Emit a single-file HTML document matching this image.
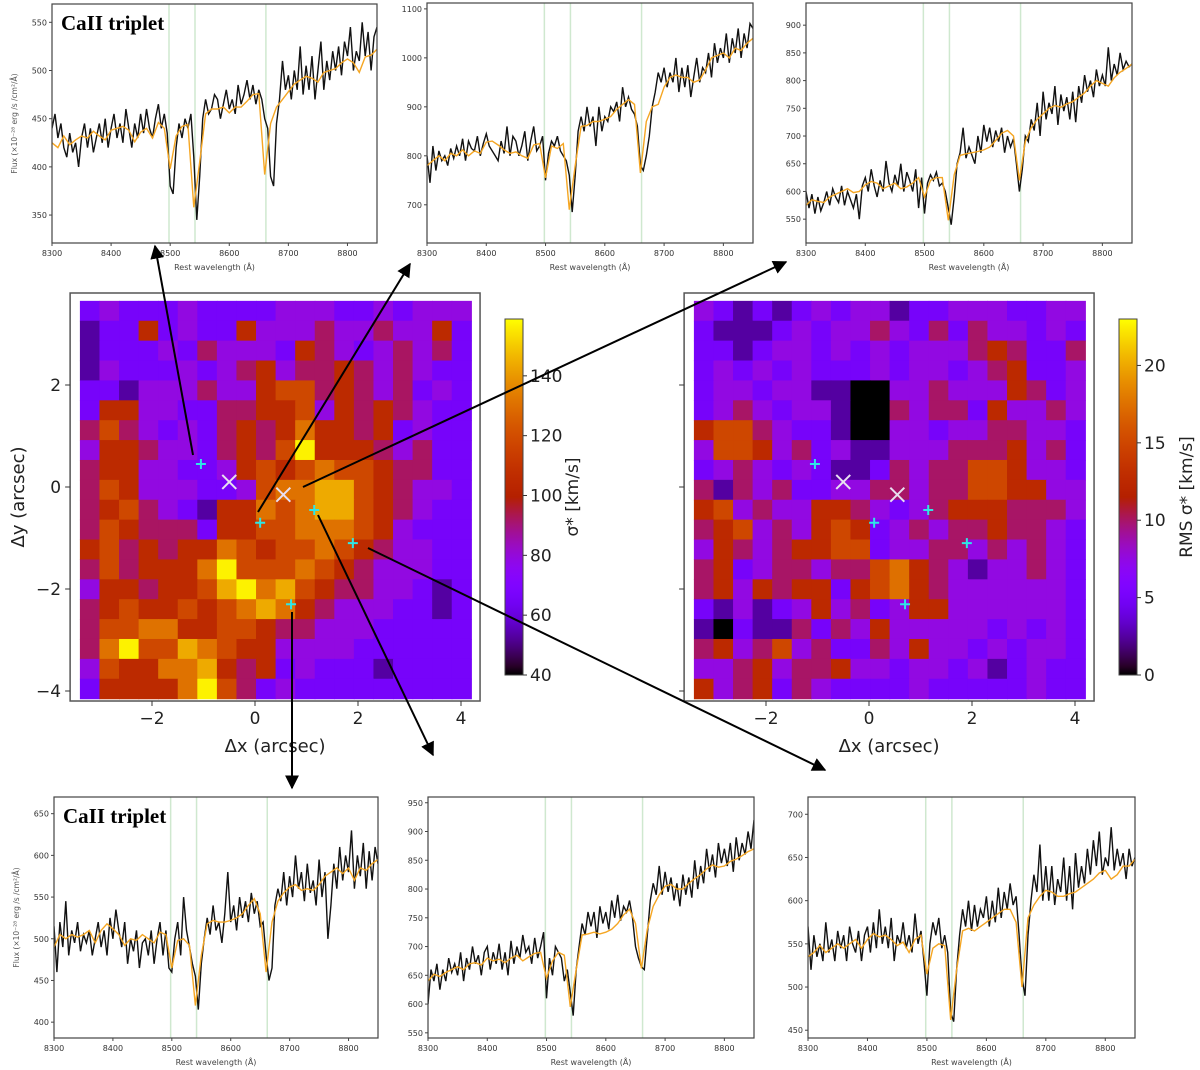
<!DOCTYPE html>
<html><head><meta charset="utf-8">
<style>
html,body{margin:0;padding:0;background:#fff;}
svg{display:block;font-family:"DejaVu Sans","Liberation Sans",sans-serif;}
</style></head>
<body>
<svg id="fig" width="1200" height="1070" viewBox="0 0 1200 1070" xmlns="http://www.w3.org/2000/svg">
<defs>
<marker id="ah" viewBox="0 0 10 10" refX="9" refY="5" markerWidth="7" markerHeight="7" orient="auto-start-reverse"><path d="M0,0 L10,5 L0,10 z" fill="#000"/></marker>
<linearGradient id="cmap" x1="0" y1="1" x2="0" y2="0"></linearGradient>
</defs>
</svg>
<script>
// ---- spectra data (wavelength grid: model every 10 Å, observed every 5 Å, 8300-8850) ----
const caLines = [8498, 8542, 8662];
const spec1Model = [425,420,432,423,428,432,430,437,432,428,438,440,442,438,426,436,440,430,446,440,398,432,442,444,358,405,455,460,460,462,456,462,462,468,475,476,392,445,462,470,478,486,490,494,492,488,498,500,502,508,512,508,498,514,516,522];
const spec1Obs = [440,455,430,445,420,410,435,415,425,400,430,445,420,440,415,430,445,425,450,420,440,455,430,445,425,460,440,420,445,430,455,435,460,440,430,450,465,440,455,435,380,372,420,445,430,450,440,455,410,345,390,450,470,455,460,475,470,450,465,480,460,470,455,485,465,475,490,470,485,465,480,470,450,440,390,380,445,470,510,480,495,470,500,480,525,475,505,480,515,470,500,530,480,510,490,520,500,525,495,530,515,545,500,520,510,550,515,540,500,535,545];
const spec1Ticks = [350,400,450,500,550];
const spec2Model = [780,790,800,790,805,800,812,800,810,805,828,830,822,812,805,808,800,795,822,825,755,820,815,825,690,780,860,862,870,870,875,880,895,905,915,905,765,870,900,905,940,960,965,960,960,950,955,975,1000,1005,1010,1000,1020,1015,1030,1040];
const spec2Obs = [800,745,820,770,810,790,800,780,815,795,820,800,835,790,830,815,810,840,800,825,845,820,810,800,790,830,805,860,800,840,830,800,820,850,790,830,860,810,820,840,750,805,830,820,840,810,800,790,760,685,760,850,880,850,900,860,880,820,900,850,880,870,900,890,910,870,940,900,920,895,885,860,780,770,800,840,900,930,970,950,980,940,970,950,1000,930,980,940,985,920,960,1000,950,980,970,1010,960,1030,990,1020,1000,1050,990,1040,1010,1060,1000,1050,1020,1070,1060];
const spec2Ticks = [700,800,900,1000,1100];
const spec3Model = [575,585,582,580,590,595,600,605,598,600,612,618,615,605,610,615,605,608,615,625,590,620,625,625,548,630,665,668,670,672,675,680,692,705,710,700,620,690,715,730,740,750,755,752,758,762,770,778,790,800,795,790,805,815,822,830];
const spec3Obs = [600,570,595,560,590,565,580,600,575,605,590,580,610,575,600,585,570,595,550,610,625,600,640,610,590,620,600,655,615,600,630,610,650,600,635,620,600,640,570,625,560,615,630,620,635,610,615,600,570,540,590,650,670,715,660,680,665,650,700,670,720,690,715,680,710,690,715,670,700,680,695,650,600,640,700,690,730,710,760,700,780,730,760,740,790,720,775,745,770,730,780,725,790,760,810,780,800,770,820,790,810,790,860,800,830,810,850,820,835,825,830];
const spec3Ticks = [550,600,650,700,750,800,850,900];
const spec4Model = [490,505,500,505,502,505,510,495,510,518,512,505,492,500,498,505,500,495,508,505,465,498,500,492,420,480,518,522,520,520,522,525,530,540,548,530,460,520,545,555,562,565,558,560,558,565,575,580,585,578,585,570,585,582,590,595];
const spec4Obs = [515,460,520,490,545,480,510,495,520,485,505,495,510,480,500,520,490,510,480,525,500,535,510,490,520,470,500,485,510,465,495,500,480,510,470,500,520,480,510,465,460,500,520,480,550,510,490,470,455,415,470,500,525,505,540,510,520,495,530,580,520,540,510,550,525,545,520,555,530,545,515,520,480,450,465,540,560,545,580,540,575,550,600,560,580,545,590,555,570,540,595,550,580,500,540,590,560,610,570,600,580,630,560,600,575,615,560,605,570,610,590];
const spec4Ticks = [400,450,500,550,600,650];
const spec5Model = [640,652,648,655,660,665,660,670,672,668,680,675,678,672,680,685,675,682,688,690,645,675,690,685,595,660,720,722,725,722,725,730,740,755,765,740,662,730,770,790,805,808,800,800,810,818,825,835,842,838,840,848,852,858,865,870];
const spec5Obs = [600,660,640,670,625,660,640,680,655,670,650,690,640,680,660,700,670,685,650,690,700,660,690,670,705,660,690,650,710,670,700,680,720,690,700,670,715,680,700,725,610,680,650,700,690,680,640,660,620,580,660,700,740,720,760,735,760,715,770,740,760,730,780,750,790,745,770,760,780,750,700,680,665,660,720,780,810,790,840,790,830,795,820,780,810,770,825,790,820,785,850,800,840,810,870,830,860,820,880,845,870,840,880,830,890,850,880,860,900,870,920];
const spec5Ticks = [550,600,650,700,750,800,850,900,950];
const spec6Model = [535,540,548,540,545,550,545,550,555,545,555,562,558,560,555,548,552,540,555,560,515,545,550,548,462,520,565,568,565,570,575,580,585,590,590,575,500,580,595,605,612,610,605,605,608,610,615,620,625,632,635,625,630,640,640,648];
const spec6Obs = [570,520,560,535,550,530,575,540,555,530,565,545,560,530,570,550,540,565,530,560,570,540,575,545,590,550,570,545,580,530,560,550,575,545,560,540,585,550,565,530,490,550,575,560,580,545,560,540,470,460,520,560,590,570,600,565,595,570,590,580,605,570,600,575,615,580,610,590,620,595,605,560,510,490,560,600,630,610,665,600,640,600,640,595,625,610,650,600,640,590,655,615,640,620,660,630,670,640,680,630,650,640,685,635,660,640,655,625,660,640,650];
const spec6Ticks = [450,500,550,600,650,700];
const waveTicks = [8300,8400,8500,8600,8700,8800];

// ---- map data: 20x20 grids, rows top->bottom; digit d -> value ----
const sigmaRows = ["23222322223332232333","12252322533343343352","12223243332543234342","13222323453445434322","22133343356645434232","25533224455635454322","46432324545755452322","35543324546955543422","45533223565676654422","46533322367788654332","45643215576788654322","46544425566777653222","56454557656676543322","46455579666765433322","35545568978654433212","45655656787543332212","46677556654433322222","47966876553333222222","36557785452322212222","25555796423222222222"];
const rmsRows = ["32121232331223332233","21112323343242433232","22123323232333454224","23232322232332345223","23323311003343335423","23432331004344253343","56643221003323344332","36653423113334445342","23432321124344665332","41434223344344665533","56343355432345554443","45634356523434454432","35434556623344343432","45234434467543133432","45354552567543333332","21312353423553333332","10211424353333323232","45346342243533232332","33453445332332312322","53452432222322222322"];
const sigmaStep = 13, sigmaBase = 40;
const rmsStep = 2.5, rmsBase = 0;
const sigmaTicks = [40,60,80,100,120,140];
const rmsTicks = [0,5,10,15,20];
const mapXTicks = [-2,0,2,4];
const mapYTicks = [2,0,-2,-4];
const starX = [-1.05,0.1,1.15,1.9,0.7];
const starY = [0.45,-0.7,-0.45,-1.1,-2.3];
const crossX = [-0.5,0.55];
const crossY = [0.1,-0.15];

const NS="http://www.w3.org/2000/svg";
const svg=document.getElementById('fig');
function mk(tag,attrs,parent){const e=document.createElementNS(NS,tag);for(const k in attrs)e.setAttribute(k,attrs[k]);(parent||svg).appendChild(e);return e;}

function gnu(t){t=Math.max(0,Math.min(1,t));const r=Math.sqrt(t),g=t*t*t,b=Math.max(0,Math.sin(2*Math.PI*t));return `rgb(${Math.round(r*255)},${Math.round(g*255)},${Math.round(b*255)})`;}
const grad=document.getElementById('cmap');
for(let i=0;i<=40;i++){const s=document.createElementNS(NS,'stop');s.setAttribute('offset',(i/40));s.setAttribute('stop-color',gnu(i/40));grad.appendChild(s);}

// ---- spectra ----
function drawSpec(name,box,ymin,ymax,ticks,model,obs,withTitle){
  const g=mk('g',{});
  
  
  const xs=w=>box.l+(w-8300)/(8850-8300)*(box.r-box.l);
  const ys=v=>box.b-(v-ymin)/(ymax-ymin)*(box.b-box.t);
  const cp=mk('clipPath',{id:'c'+name},g);mk('rect',{x:box.l,y:box.t,width:box.r-box.l,height:box.b-box.t},cp);
  caLines.forEach(w=>{const l=mk('line',{x1:xs(w),x2:xs(w),y1:box.t,y2:box.b,stroke:'#cfe8cf','stroke-width':1.5},g);
    
    });
  let d='';obs.forEach((v,i)=>{d+=(i?'L':'M')+xs(8300+5*i).toFixed(1)+','+ys(v).toFixed(1);});
  const po=mk('path',{d:d,fill:'none',stroke:'#111','stroke-width':1.4,'clip-path':`url(#c${name})`},g);
  
  
  d='';model.forEach((v,i)=>{d+=(i?'L':'M')+xs(8300+10*i).toFixed(1)+','+ys(v).toFixed(1);});
  const pm=mk('path',{d:d,fill:'none',stroke:'#f5a623','stroke-width':1.4,'clip-path':`url(#c${name})`},g);
  
  
  const fr=mk('rect',{x:box.l,y:box.t,width:box.r-box.l,height:box.b-box.t,fill:'none',stroke:'#444','stroke-width':1.2},g);
  
  
  ticks.forEach(v=>{const y=ys(v);mk('line',{x1:box.l-3,x2:box.l,y1:y,y2:y,stroke:'#444'},g);
    const t=mk('text',{x:box.l-5,y:y+3,'font-size':8,'text-anchor':'end',fill:'#333'},g);t.textContent=v;
    
    });
  waveTicks.forEach(w=>{const x=xs(w);mk('line',{x1:x,x2:x,y1:box.b,y2:box.b+3,stroke:'#444'},g);
    const t=mk('text',{x:x,y:box.b+13,'font-size':8,'text-anchor':'middle',fill:'#333'},g);t.textContent=w;
    
    });
  const xl=mk('text',{x:(box.l+box.r)/2,y:box.b+27,'font-size':8,'text-anchor':'middle',fill:'#444'},g);xl.textContent='Rest wavelength (Å)';
  
  
  if(withTitle){
    const tt=mk('text',{x:box.l+9,y:box.t+26,'font-size':21,'font-weight':'bold','font-family':'"Liberation Serif",serif',fill:'#000'},g);tt.textContent='CaII triplet';
    
    
    const cy=(box.t+box.b)/2;
    const yl=mk('text',{x:0,y:0,'font-size':7.5,'text-anchor':'middle',fill:'#555',transform:`translate(${box.l-35},${cy}) rotate(-90)`},g);yl.textContent='Flux (×10⁻²⁸ erg /s /cm²/Å)';
    
    
  }
}
drawSpec('spectrum-top-left',{l:52,r:377,t:4,b:243},321,569,spec1Ticks,spec1Model,spec1Obs,true);
drawSpec('spectrum-top-middle',{l:427,r:753,t:3,b:243},622,1112,spec2Ticks,spec2Model,spec2Obs,false);
drawSpec('spectrum-top-right',{l:806,r:1132,t:3,b:243},507,940,spec3Ticks,spec3Model,spec3Obs,false);
drawSpec('spectrum-bottom-left',{l:54,r:378,t:797,b:1038},381,670,spec4Ticks,spec4Model,spec4Obs,true);
drawSpec('spectrum-bottom-middle',{l:428,r:754,t:797,b:1038},541,960,spec5Ticks,spec5Model,spec5Obs,false);
drawSpec('spectrum-bottom-right',{l:808,r:1135,t:797,b:1038},441,720,spec6Ticks,spec6Model,spec6Obs,false);

// ---- maps ----
function drawMap(name,x0px,rows,step,base,vmin,vmax,cbX,cbTicks,cbLabel,showYLabels){
  const g=mk('g',{});
  
  
  const sx=x=>x0px+51.5*x, sy=y=>487-51*y;
  const box={l:sx(-3.59),r:sx(4.37),t:293,b:701};
  const bg=mk('rect',{x:box.l,y:box.t,width:box.r-box.l,height:box.b-box.t,fill:'#fff'},g);
  const gx0=-3.4,gx1=4.2,gy0=3.65,gy1=-4.15;
  const cw=(gx1-gx0)/20,ch=(gy0-gy1)/20;
  rows.forEach((row,ri)=>{for(let ci=0;ci<row.length;ci++){
    const v=base+step*(+row[ci]);
    const c=mk('rect',{x:sx(gx0+ci*cw).toFixed(2),y:sy(gy0-ri*ch).toFixed(2),width:(51.5*cw+0.6).toFixed(2),height:(51*ch+0.6).toFixed(2),fill:gnu((v-vmin)/(vmax-vmin))},g);
    
    
  }});
  const fr=mk('rect',{x:box.l,y:box.t,width:box.r-box.l,height:box.b-box.t,fill:'none',stroke:'#555','stroke-width':1.5},g);
  
  
  crossX.forEach((x,i)=>{const px=sx(x),py=sy(crossY[i]);
    const p=mk('path',{d:`M${px-7},${py-7}L${px+7},${py+7}M${px-7},${py+7}L${px+7},${py-7}`,stroke:'#e8e0f0','stroke-width':2},g);
    
    });
  starX.forEach((x,i)=>{const px=sx(x),py=sy(starY[i]);
    const p=mk('path',{d:`M${px-5},${py}L${px+5},${py}M${px},${py-5}L${px},${py+5}`,stroke:'#2ee6e6','stroke-width':2},g);
    
    });
  mapXTicks.forEach(v=>{const x=sx(v);mk('line',{x1:x,x2:x,y1:box.b,y2:box.b+5,stroke:'#333'},g);
    const t=mk('text',{x:x,y:box.b+23,'font-size':17,'text-anchor':'middle',fill:'#222'},g);t.textContent=v<0?'−'+(-v):v;
    
    });
  mapYTicks.forEach(v=>{const y=sy(v);mk('line',{x1:box.l-5,x2:box.l,y1:y,y2:y,stroke:'#333'},g);
    if(showYLabels){const t=mk('text',{x:box.l-9,y:y+6,'font-size':17,'text-anchor':'end',fill:'#222'},g);t.textContent=v<0?'−'+(-v):v;
    
    }});
  const xl=mk('text',{x:(box.l+box.r)/2,y:box.b+51,'font-size':18,'text-anchor':'middle',fill:'#222'},g);xl.textContent='Δx (arcsec)';
  
  
  if(showYLabels){const yl=mk('text',{x:0,y:0,'font-size':18,'text-anchor':'middle',fill:'#222',transform:`translate(24,${(box.t+box.b)/2}) rotate(-90)`},g);yl.textContent='Δy (arcsec)';
    
    }
  // colorbar
  const cbT=319,cbB=675,cbW=18;
  const cb=mk('rect',{x:cbX,y:cbT,width:cbW,height:cbB-cbT,fill:'url(#cmap)',stroke:'#444','stroke-width':1},g);
  
  
  const cs=v=>cbB-(v-vmin)/(vmax-vmin)*(cbB-cbT);
  cbTicks.forEach(v=>{const y=cs(v);mk('line',{x1:cbX+cbW,x2:cbX+cbW+4,y1:y,y2:y,stroke:'#333'},g);
    const t=mk('text',{x:cbX+cbW+7,y:y+6,'font-size':17,fill:'#222'},g);t.textContent=v;
    
    });
  const cl=mk('text',{x:0,y:0,'font-size':17,'text-anchor':'middle',fill:'#222',transform:`translate(${cbX+cbW+55},${(cbT+cbB)/2}) rotate(-90)`},g);cl.textContent=cbLabel;
  
  
}
drawMap('sigma-map',255,sigmaRows,sigmaStep,sigmaBase,40,159,505,sigmaTicks,'σ* [km/s]',true);
drawMap('rms-sigma-map',869,rmsRows,rmsStep,rmsBase,0,23,1119,rmsTicks,'RMS σ* [km/s]',false);

// ---- arrows linking spaxels to spectra ----
const arrows=[[193,455,155,246],[258,512,410,264],[303,487,786,262],[292,612,292,788],[318,515,433,755],[368,548,825,770]];
arrows.forEach(a=>{const l=mk('line',{x1:a[0],y1:a[1],x2:a[2],y2:a[3],stroke:'#000','stroke-width':2,'marker-end':'url(#ah)'});
  
  });
</script>
</body></html>
